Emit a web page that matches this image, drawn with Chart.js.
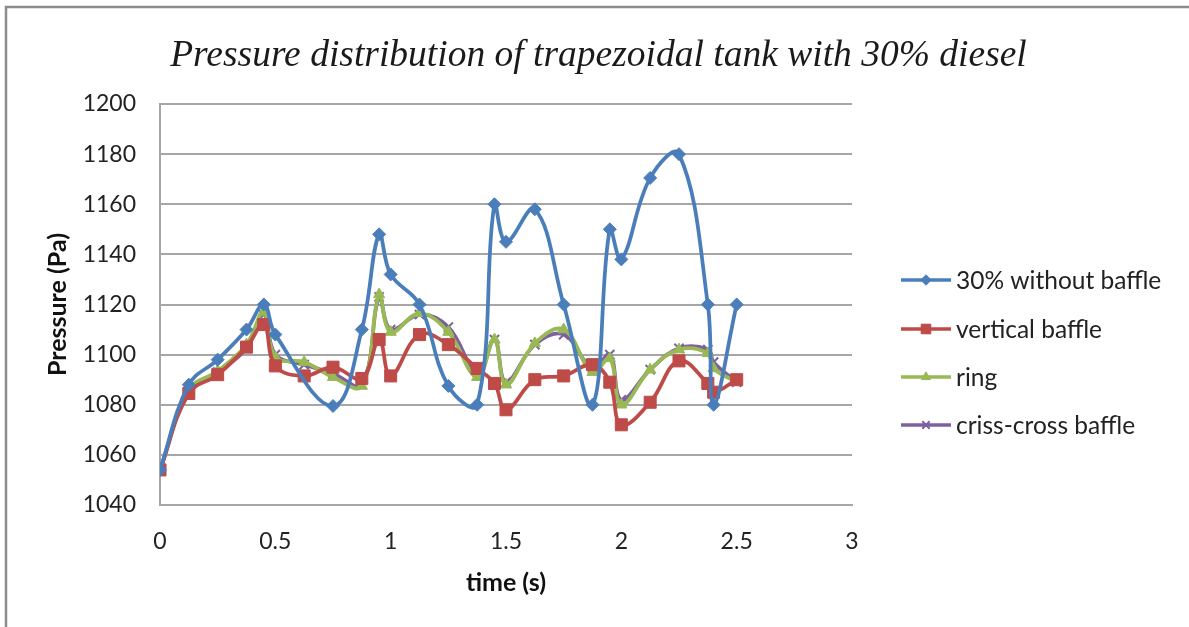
<!DOCTYPE html>
<html>
<head>
<meta charset="utf-8">
<script src="https://cdn.jsdelivr.net/npm/chart.js@4/dist/chart.umd.min.js"></script>
<style>
  html, body { margin: 0; padding: 0; background: #ffffff; }
  #wrap { width: 1189px; height: 627px; position: relative; }
</style>
</head>
<body>
<div id="wrap"><canvas id="c" width="1189" height="627"></canvas></div>
<script>
// Sample times (s) shared by all four series
const times = [0, 0.125, 0.25, 0.375, 0.45, 0.5, 0.625, 0.75, 0.875, 0.95, 1.0, 1.125, 1.25,
               1.375, 1.45, 1.5, 1.625, 1.75, 1.875, 1.95, 2.0, 2.125, 2.25, 2.375, 2.4, 2.5];

// Pressure (Pa) for each configuration; null = no sample at that time
const withoutBaffle = [1054, 1088, 1098, 1110, 1120, 1108, null, 1079.5, 1110, 1148, 1132, 1120, 1087.5,
                       1080, 1160, 1145, 1158, 1120, 1080, 1150, 1138, 1170.5, 1180, 1120, 1080, 1120];
const verticalBaffle = [1054, 1084.5, 1092, 1103, 1112, 1095.5, 1091.5, 1095, 1090.5, 1106, 1091.5, 1108, 1104,
                        1094.5, 1088.5, 1078, 1090, 1091.5, 1096, 1089, 1072, 1081, 1097.5, 1088.5, 1085, 1090];
const ringBaffle = [1054, 1086, 1093.5, 1104, 1117, 1099, 1097, 1091, 1087.5, 1124, 1109, 1116.5, 1109,
                    1091, 1106, 1088, 1104.5, 1110, 1093, 1098.5, 1080, 1094, 1102, 1100.5, 1094.5, 1089];
const crissCross = [1054, 1085.5, 1093, 1102.5, 1116, 1100, 1096, 1092.5, 1088, 1123, 1110, 1116, 1111,
                    1093, 1106, 1089, 1104, 1108, 1094.5, 1100, 1082, 1094, 1102.5, 1102, 1097, 1089];

const seriesNames = ['30% without baffle', 'vertical baffle', 'ring', 'criss-cross baffle'];

// Axis ticks
const xTickMin = 0, xTickMax = 3, xTickStep = 0.5;
const yTickMin = 1040, yTickMax = 1200, yTickStep = 20;

const toPoints = vals => times.map((t, i) => ({ x: t, y: vals[i] }));

const styles = [
  { color: '#4A7EBB', pointStyle: 'rectRot', radius: 6.5 },
  { color: '#BE4B48', pointStyle: 'rect', radius: 8.5 },
  { color: '#98B954', pointStyle: 'triangle', radius: 6.5 },
  { color: '#7D60A0', pointStyle: 'crossRot', radius: 6.5 }
];
const values = [withoutBaffle, verticalBaffle, ringBaffle, crissCross];

const datasets = values.map((v, i) => ({
  label: seriesNames[i],
  data: toPoints(v),
  borderColor: styles[i].color,
  backgroundColor: styles[i].color,
  pointBackgroundColor: styles[i].color,
  pointBorderColor: styles[i].color,
  pointStyle: styles[i].pointStyle,
  pointRadius: styles[i].radius,
  pointBorderWidth: styles[i].pointStyle === 'crossRot' ? 2 : 1,
  borderWidth: 3.75,
  tension: 0.4,
  spanGaps: true,
  fill: false
}));

// Outer frame lines (left and top edges)
const framePlugin = {
  id: 'frame',
  beforeDraw(chart) {
    const ctx = chart.ctx;
    ctx.save();
    ctx.strokeStyle = '#8c8c8c';
    ctx.lineWidth = 2.5;
    ctx.beginPath();
    ctx.moveTo(6, 627);
    ctx.lineTo(6, 7);
    ctx.lineTo(1189, 7);
    ctx.stroke();
    ctx.restore();
  }
};

// Legend on the right: line sample with marker, then label
const legendPlugin = {
  id: 'sideLegend',
  afterDraw(chart) {
    const ctx = chart.ctx;
    const x0 = 901, x1 = 951, textX = 956;
    const rows = [280, 329, 377, 425];
    ctx.save();
    chart.data.datasets.forEach((ds, i) => {
      const y = rows[i];
      ctx.strokeStyle = ds.borderColor;
      ctx.lineWidth = 3.5;
      ctx.beginPath();
      ctx.moveTo(x0, y);
      ctx.lineTo(x1, y);
      ctx.stroke();
      ctx.fillStyle = ds.pointBackgroundColor;
      ctx.strokeStyle = ds.pointBorderColor;
      ctx.lineWidth = ds.pointBorderWidth;
      Chart.helpers.drawPoint(ctx, {
        pointStyle: ds.pointStyle,
        radius: ds.pointRadius * 0.8,
        rotation: 0,
        borderWidth: ds.pointBorderWidth
      }, (x0 + x1) / 2, y);
      ctx.fillStyle = '#222222';
      ctx.font = '24.5px Lato';
      ctx.textBaseline = 'middle';
      ctx.textAlign = 'left';
      ctx.fillText(ds.label, textX, y + 1);
    });
    ctx.restore();
  }
};

const gridColor = '#a6a6a6';

new Chart(document.getElementById('c'), {
  type: 'line',
  data: { datasets },
  options: {
    responsive: false,
    animation: false,
    devicePixelRatio: 1,
    layout: { padding: { left: 8, right: 0, top: 0, bottom: 0 } },
    plugins: {
      legend: { display: false },
      tooltip: { enabled: false },
      title: {
        display: true,
        text: 'Pressure distribution of trapezoidal tank with 30% diesel',
        color: '#1a1a1a',
        font: { family: 'Liberation Serif', style: 'italic', size: 37.5, weight: 'normal' },
        padding: { top: 34, bottom: 25 }
      }
    },
    scales: {
      x: {
        type: 'linear',
        min: xTickMin,
        max: xTickMax,
        afterFit(scale) { scale.height = 122; },
        ticks: {
          stepSize: xTickStep,
          padding: 23,
          color: '#222222',
          font: { family: 'Lato', size: 23 },
          callback: v => String(v)
        },
        grid: { display: false, drawTicks: false },
        border: { display: true, color: gridColor, width: 2 },
        title: {
          display: true,
          text: 'time (s)',
          color: '#111111',
          font: { family: 'Lato', size: 25, weight: 'bold' },
          padding: { top: 0, bottom: 29 }
        }
      },
      y: {
        min: yTickMin,
        max: yTickMax,
        afterFit(scale) { scale.width = 152; },
        ticks: {
          stepSize: yTickStep,
          padding: 24,
          color: '#222222',
          font: { family: 'Lato', size: 23 },
          callback: v => String(v)
        },
        grid: { color: gridColor, lineWidth: 2, drawTicks: false },
        border: { display: true, color: gridColor, width: 2 },
        title: {
          display: true,
          text: 'Pressure (Pa)',
          color: '#111111',
          font: { family: 'Lato', size: 25, weight: 'bold' },
          padding: { top: 35, bottom: 0 }
        }
      },
      // Empty right-hand axis that reserves room for the legend column
      legendSpace: {
        type: 'linear',
        position: 'right',
        min: 0,
        max: 1,
        afterFit(scale) { scale.width = 337; },
        ticks: { display: false },
        grid: { display: false, drawTicks: false },
        border: { display: false }
      }
    }
  },
  plugins: [framePlugin, legendPlugin]
});
</script>
</body>
</html>
